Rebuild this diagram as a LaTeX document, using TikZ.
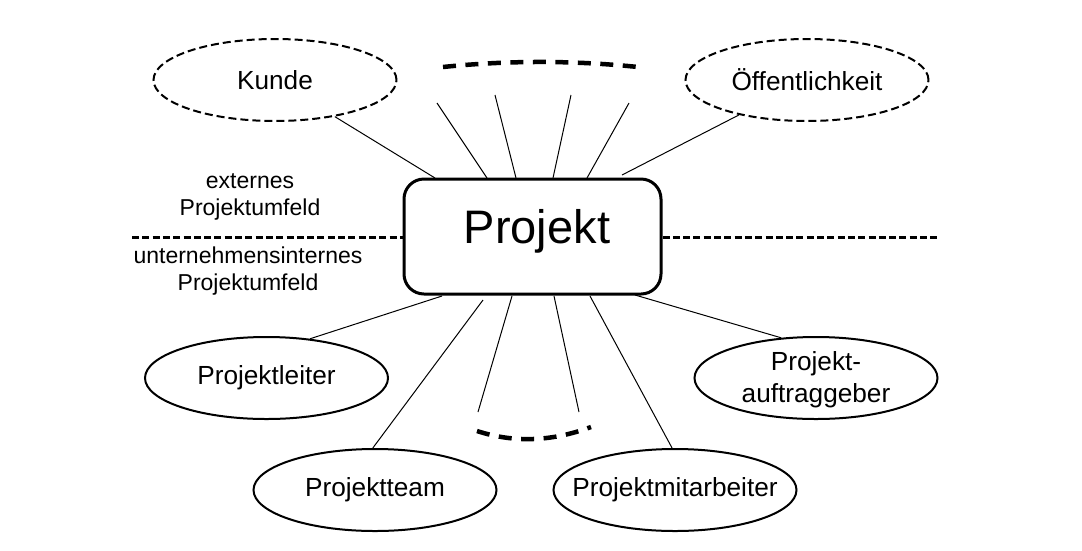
\documentclass[tikz,border=0pt]{standalone}
\usepackage{fontspec}
\setmainfont{Liberation Sans}
\usetikzlibrary{shapes.geometric}
\begin{document}
\begin{tikzpicture}[x=1pt,y=-1pt,
  stakeholder/.style={ellipse,draw,line width=2pt,inner sep=0pt,minimum width=243pt,minimum height=82pt,font=\fontsize{26.2}{32}\selectfont,align=center},
  extstakeholder/.style={stakeholder,dash pattern=on 8pt off 4pt},
  projbox/.style={draw,line width=3pt,rounded corners=20pt,minimum width=257pt,minimum height=115pt,inner sep=0pt,font=\fontsize{47}{56}\selectfont},
  sidelabel/.style={font=\fontsize{23}{27.5}\selectfont,align=center},
  conn/.style={line width=1pt},
  divider/.style={line width=3pt,dash pattern=on 7pt off 3.3pt},
  etc/.style={line width=4.5pt,dash pattern=on 13pt off 9.5pt}
]
\useasboundingbox (0,0) rectangle (1082,550);

% central project box
\node[projbox] (P) at (532.5,236.5) {};
\node[font=\fontsize{47}{56}\selectfont] (Ptext) at (537,231) {Projekt};

% stakeholders
\node[extstakeholder] (K) at (275,80) {Kunde};
\node[extstakeholder] (O) at (807,80) {Öffentlichkeit};
\node[stakeholder] (PL) at (266.5,378) {Projektleiter};
\node[stakeholder,inner ysep=-3pt,text depth=3pt] (PA) at (816,378) {Projekt-\\auftraggeber};
\node[stakeholder] (PT) at (375,490) {Projektteam};
\node[stakeholder,inner xsep=-18pt] (PM) at (675,490) {Projektmitarbeiter};

% side labels
\node[sidelabel] (ext) at (250,197) {externes\\Projektumfeld};
\node[sidelabel] (int) at (248,271) {unternehmensinternes\\Projektumfeld};

% divider
\coordinate (dl) at (132,237);
\coordinate (dr) at (940,237);
\draw[divider] (dl) -- (P.west |- dl);
\draw[divider] (P.east |- dr) -- (dr);

% top connectors
\coordinate (t1) at (435,178);
\coordinate (t2) at (487,178);
\coordinate (t3) at (516,178);
\coordinate (t4) at (553,178);
\coordinate (t5) at (587,178);
\coordinate (t6) at (622,175);
\coordinate (u2) at (437,103);
\coordinate (u3) at (495,95);
\coordinate (u4) at (571,95);
\coordinate (u5) at (629,103);
\draw[conn] (K) -- (t1);
\draw[conn] (u2) -- (t2);
\draw[conn] (u3) -- (t3);
\draw[conn] (u4) -- (t4);
\draw[conn] (u5) -- (t5);
\draw[conn] (O) -- (t6);

% bottom connectors
\coordinate (b1) at (442,296);
\coordinate (b2) at (483,300);
\coordinate (b3) at (512,296);
\coordinate (b4) at (554,296);
\coordinate (b5) at (590,296);
\coordinate (b6) at (635,295);
\coordinate (l3) at (478,412);
\coordinate (l4) at (579,412);
\draw[conn] (PL.42) -- (b1);
\draw[conn] (PT.93) -- (b2);
\draw[conn] (l3) -- (b3);
\draw[conn] (l4) -- (b4);
\draw[conn] (PM.94) -- (b5);
\draw[conn] (PA.131) -- (b6);

% "and more" arcs
\coordinate (a1) at (443,67);
\coordinate (a2) at (638,67);
\draw[etc] (a1) .. controls (507.7,60.3) and (572.7,60.3) .. (a2);
\coordinate (c1) at (477,431);
\coordinate (c2) at (591,427);
\draw[etc] (c1) .. controls (513.7,443) and (551.7,441.7) .. (c2);
\end{tikzpicture}
\end{document}
